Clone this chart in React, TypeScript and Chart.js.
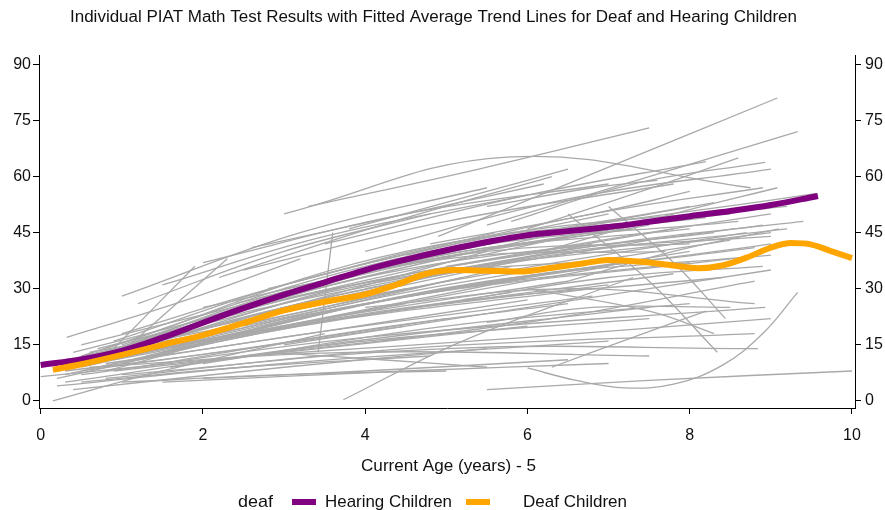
import React, { useEffect, useRef } from "react";
import { Chart, registerables } from "chart.js";

Chart.register(...registerables);

const titleText =
  "Individual PIAT Math Test Results with Fitted Average Trend Lines for Deaf and Hearing Children";
const xAxisTitle = "Current Age (years) - 5";
const legendTitle = "deaf";
const seriesNames = ["Hearing Children", "Deaf Children"];
const xTicks = [0, 2, 4, 6, 8, 10];
const yTicks = [0, 15, 30, 45, 60, 75, 90];

const hearingAge = [0, 0.5, 1, 1.5, 2, 2.5, 3, 3.5, 4, 4.5, 5, 5.5, 6, 6.5, 7, 7.5, 8, 8.5, 9, 9.58];
const hearingScore = [9.6, 11.1, 13.4, 16.9, 20.9, 24.8, 28.4, 31.7, 35, 37.8, 40.3, 42.5, 44.3, 45.4, 46.5, 47.9, 49.4, 50.8, 52.4, 54.8];

const deafAge = [0.15, 0.5, 1, 1.5, 2, 2.5, 3, 3.5, 4, 4.4, 4.75, 5.1, 5.5, 5.9, 6.3, 6.7, 7.0, 7.4, 7.8, 8.1, 8.4, 8.7, 9.0, 9.25, 9.5, 9.75, 10];
const deafScore = [8.3, 9.8, 12.3, 15, 17.6, 20.8, 24.2, 26.5, 28.5, 31.2, 34, 35, 34.8, 34.6, 35.6, 36.8, 37.7, 37.2, 36.2, 35.5, 36.2, 38.3, 41, 42.2, 41.8, 40, 38.2];

// individual fitted trajectories: [age, score] points
const childCurves: number[][][] = [
  [[3.0, 50], [5.75, 65.2], [8.75, 57]],
  [[4.9, 44], [7.0, 62.5], [9.08, 81]],
  [[5.5, 47], [7.5, 60], [9.33, 72]],
  [[3.3, 52], [5.4, 62], [7.5, 73]],
  [[1.0, 28], [3.2, 45], [5.5, 57]],
  [[0.32, 17], [1.8, 27], [3.2, 38]],
  [[2.0, 37], [4.5, 50], [7.0, 58]],
  [[1.5, 31], [3.5, 44], [6.0, 55]],
  [[3.5, 42], [6.0, 55], [8.2, 64]],
  [[4.0, 40], [6.5, 54], [9.0, 62]],
  [[2.5, 35], [5.0, 48], [7.8, 58]],
  [[4.5, 39], [6.8, 50], [8.9, 57]],
  [[1.2, 26], [3.0, 40], [4.8, 50]],
  [[2.2, 33], [4.2, 47], [6.3, 60]],
  [[5.8, 48], [7.3, 58], [8.93, 63.8]],
  [[6.0, 46], [7.4, 56], [8.6, 65]],
  [[6.2, 40], [7.8, 50], [9.08, 57]],
  [[0.5, 12], [4.0, 36], [8.0, 52]],
  [[0.8, 14], [4.5, 40], [8.5, 50]],
  [[0.4, 10], [3.5, 32], [7.5, 47]],
  [[1.0, 15], [4.0, 35], [7.0, 48]],
  [[0.6, 11], [3.8, 33], [8.8, 52]],
  [[0.3, 10], [3.0, 27], [6.5, 44]],
  [[1.2, 16], [5.0, 40], [9.56, 55.5]],
  [[0.9, 13], [4.2, 34], [8.3, 45]],
  [[0.5, 11], [3.2, 28], [7.8, 46]],
  [[1.5, 18], [4.7, 38], [8.0, 46]],
  [[0.7, 12], [3.6, 30], [9.0, 45]],
  [[2.0, 22], [5.0, 40], [8.6, 48]],
  [[1.8, 20], [4.5, 37], [7.3, 46]],
  [[0.2, 8], [2.8, 24], [6.8, 42]],
  [[1.1, 14], [4.3, 33], [8.9, 47]],
  [[2.4, 26], [5.5, 42], [8.2, 49]],
  [[0.6, 12], [2.5, 22], [5.5, 40]],
  [[1.4, 17], [3.4, 30], [6.2, 44]],
  [[1.0, 18], [3.0, 31], [5.6, 45]],
  [[0.4, 13], [2.2, 23], [4.6, 38]],
  [[2.8, 30], [5.5, 44], [9.2, 52]],
  [[0.9, 16], [3.5, 34], [7.0, 50]],
  [[0.4, 9], [3.5, 24], [8.0, 40]],
  [[0.8, 8], [4.0, 26], [8.5, 38]],
  [[0.3, 7], [3.0, 20], [7.0, 36]],
  [[1.0, 10], [4.5, 28], [9.0, 42]],
  [[0.5, 9], [3.8, 25], [7.5, 38]],
  [[1.3, 12], [5.0, 30], [8.8, 41]],
  [[0.6, 10], [2.5, 18], [6.0, 33]],
  [[1.6, 14], [4.8, 29], [8.0, 37]],
  [[0.2, 6], [3.2, 20], [6.8, 30]],
  [[2.2, 17], [5.5, 32], [9.0, 39]],
  [[0.9, 11], [3.7, 22], [7.8, 34]],
  [[1.9, 20], [4.5, 33], [7.2, 38]],
  [[0.7, 9], [4.2, 24], [8.4, 33]],
  [[0.3, 11], [2.0, 18], [4.5, 30]],
  [[1.2, 13], [3.0, 22], [5.8, 36]],
  [[0.3, 5], [3.5, 15], [7.5, 25]],
  [[0.5, 7], [4.0, 17], [8.93, 25]],
  [[0.8, 6], [4.5, 14], [8.8, 18]],
  [[0.2, 4], [3.0, 10], [7.0, 16]],
  [[1.0, 7], [5.0, 14], [8.84, 14]],
  [[0.6, 9], [3.8, 13], [7.5, 12]],
  [[1.5, 5], [4.5, 8], [7.0, 10]],
  [[0.4, 3], [3.0, 9], [5.5, 14]],
  [[0.15, 0], [1.5, 8], [3.5, 18]],
  [[3.73, 0.3], [5.2, 16], [7.3, 33]],
  [[6.0, 8.8], [6.6, 5.5], [7.2, 3.5], [7.8, 4.5], [8.4, 9.5], [8.9, 18], [9.33, 29]],
  [[5.5, 3], [7.5, 5.5], [10, 8]],
  [[7.0, 52], [7.8, 37], [8.44, 22]],
  [[6.5, 50], [7.5, 32], [8.34, 13]],
  [[2.0, 10], [5.0, 20], [8.0, 26]],
  [[1.2, 9], [4.0, 19], [6.5, 26]],
  [[2.5, 12], [6.0, 17], [9.0, 22]],
  [[0.5, 5], [2.5, 9], [4.8, 12]],
  [[3.0, 15], [6.0, 25], [9.0, 35]],
  [[2.95, 12.8], [4.2, 11], [5.5, 9]],
  [[5.5, 21], [6.8, 25], [8.5, 25]],
  [[3.42, 13], [3.6, 45]],
  [[0.9, 14], [1.9, 36]],
  [[1.1, 15], [2.3, 38]],
  [[6.3, 9], [7.3, 17], [8.2, 24]],
  [[4.0, 25], [6.5, 30], [8.8, 26]],
  [[2.0, 25], [5.0, 38], [7.7, 40]],
  [[3.0, 30], [5.5, 40], [8.0, 42]],
  [[0.0, 6.5], [2.5, 12], [5.0, 18]],
  [[0.0, 10], [2.0, 16], [4.5, 26]],
  [[0.5, 8], [2.5, 14], [5.0, 22]],
  [[0.8, 10], [3.0, 17], [6.0, 27]],
  [[1.0, 12], [3.5, 22], [6.5, 32]],
  [[0.4, 11], [2.8, 19], [5.8, 29]],
  [[1.5, 13], [4.0, 23], [7.0, 31]],
  [[0.6, 13], [2.6, 21], [5.2, 33]],
  [[1.2, 11], [3.3, 18], [6.8, 28]],
  [[0.9, 8], [3.0, 13], [6.0, 20]],
  [[0.3, 8], [2.2, 13], [4.5, 20]],
  [[1.6, 9], [4.0, 16], [7.5, 22]],
  [[2.0, 6], [4.0, 8], [6.5, 11]],
  [[1.0, 5], [3.0, 7], [5.0, 8]],
  [[0.5, 12], [3.0, 24], [6.0, 38]],
  [[1.3, 15], [3.8, 29], [7.5, 43]],
  [[0.7, 14], [3.2, 27], [6.4, 40]],
  [[2.5, 20], [5.0, 31], [8.5, 43]],
  [[3.5, 27], [6.0, 38], [9.2, 46]],
  [[4.0, 30], [6.5, 40], [9.0, 44]],
  [[3.0, 24], [5.8, 35], [8.7, 45]],
  [[4.5, 33], [7.0, 42], [9.4, 48]],
  [[5.0, 36], [7.2, 44], [9.0, 50]],
  [[3.8, 34], [6.0, 44], [8.3, 53]],
  [[4.8, 42], [6.8, 50], [8.0, 56]],
  [[5.5, 52], [6.8, 57], [7.6, 59]],
  [[2.6, 41], [4.3, 49], [6.2, 58]],
  [[3.8, 46], [5.5, 56], [6.5, 62]],
  [[6.5, 32], [7.8, 40], [9.1, 46]],
  [[5.2, 27], [7.0, 33], [8.9, 36]],
  [[6.0, 30], [7.5, 24], [8.3, 18]],
  [[4.2, 16], [6.3, 22], [8.8, 32]],
  [[0.2, 9], [1.5, 14], [3.2, 22]],
  [[0.5, 15], [1.8, 22], [3.5, 31]],
];

const FONT = "'Liberation Sans', Arial, sans-serif";
const TEXT_COLOR = "#111111";
const GRAY = "#a9a9a9";
const PURPLE = "#800080";
const ORANGE = "#ffa500";

function fitText(ctx: CanvasRenderingContext2D, text: string, x0: number, cy: number, w: number, size: number) {
  ctx.save();
  ctx.font = `${size}px ${FONT}`;
  const m = ctx.measureText(text).width;
  ctx.translate(x0, cy);
  ctx.scale(w / m, 1);
  ctx.textAlign = "left";
  ctx.textBaseline = "middle";
  ctx.fillStyle = TEXT_COLOR;
  ctx.fillText(text, 0, 0);
  ctx.restore();
}

const textPlugin = {
  id: "textPlugin",
  afterDraw(chart: any) {
    const ctx = chart.ctx as CanvasRenderingContext2D;
    fitText(ctx, titleText, 70, 18, 727, 16);
    fitText(ctx, xAxisTitle, 361, 467, 175, 16);
    // legend
    fitText(ctx, legendTitle, 238, 502, 35, 17);
    ctx.save();
    ctx.fillStyle = PURPLE;
    ctx.fillRect(292, 499, 24, 6);
    ctx.fillStyle = ORANGE;
    ctx.fillRect(466, 499, 24, 6);
    ctx.restore();
    fitText(ctx, seriesNames[0], 325, 502, 127, 17);
    fitText(ctx, seriesNames[1], 523, 502, 104, 17);
  },
};

export default function App() {
  const ref = useRef<HTMLCanvasElement | null>(null);
  useEffect(() => {
    if (!ref.current) return;
    const grayDatasets = childCurves.map((c) => ({
      data: c.map((p) => ({ x: p[0], y: p[1] })),
      borderColor: GRAY,
      borderWidth: 1.3,
      pointRadius: 0,
      tension: 0.4,
      fill: false,
      yAxisID: "y",
    }));
    const datasets: any[] = [
      {
        label: seriesNames[1],
        data: deafAge.map((x, i) => ({ x, y: deafScore[i] })),
        borderColor: ORANGE,
        borderWidth: 6,
        pointRadius: 0,
        cubicInterpolationMode: "monotone",
        fill: false,
        yAxisID: "y",
      },
      {
        label: seriesNames[0],
        data: hearingAge.map((x, i) => ({ x, y: hearingScore[i] })),
        borderColor: PURPLE,
        borderWidth: 6,
        pointRadius: 0,
        tension: 0.4,
        fill: false,
        yAxisID: "y",
      },
      ...grayDatasets,
    ];
    const tickFont = { family: FONT, size: 16 };
    const yCommon = (position: string, width: number, padding: number) => ({
      type: "linear",
      position,
      min: -1.9,
      max: 92.5,
      afterBuildTicks: (s: any) => {
        s.ticks = yTicks.map((v) => ({ value: v }));
      },
      afterFit: (s: any) => {
        s.width = width;
      },
      grid: { drawOnChartArea: false, drawTicks: true, tickLength: 6, color: "#000", lineWidth: 1 },
      border: { display: true, color: "#000", width: 1 },
      ticks: { font: tickFont, color: TEXT_COLOR, padding },
    });
    const chart = new Chart(ref.current, {
      type: "line",
      data: { datasets },
      options: {
        responsive: false,
        animation: false,
        parsing: false as any,
        normalized: true,
        layout: { padding: { top: 55, left: 0, right: 0, bottom: 0 } },
        plugins: { legend: { display: false }, title: { display: false }, tooltip: { enabled: false } },
        scales: {
          x: {
            type: "linear",
            position: "bottom",
            min: -0.021,
            max: 10.037,
            afterBuildTicks: (s: any) => {
              s.ticks = xTicks.map((v) => ({ value: v }));
            },
            afterFit: (s: any) => {
              s.height = 102;
            },
            grid: { drawOnChartArea: false, drawTicks: true, tickLength: 6, color: "#000", lineWidth: 1 },
            border: { display: true, color: "#000", width: 1 },
            ticks: { font: tickFont, color: TEXT_COLOR, padding: 12, maxRotation: 0 },
          },
          y: yCommon("left", 39, 2) as any,
          y2: yCommon("right", 30, 4) as any,
        },
      },
      plugins: [textPlugin],
    });
    return () => chart.destroy();
  }, []);
  return (
    <div style={{ position: "absolute", left: 0, top: 0, width: 885, height: 510, background: "#fff" }}>
      <canvas ref={ref} width={885} height={510} style={{ width: 885, height: 510 }} />
    </div>
  );
}
